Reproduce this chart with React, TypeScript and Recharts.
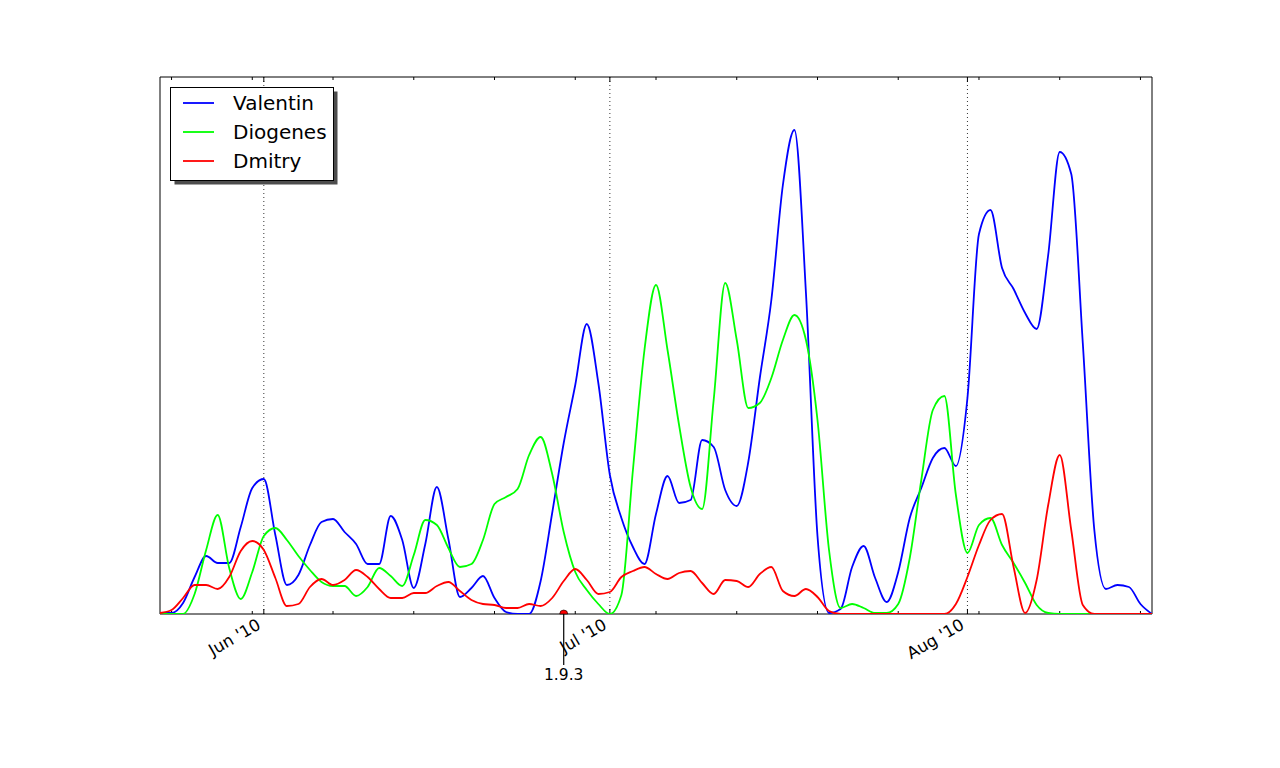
import React from 'react';
import {
  LineChart,
  Line,
  XAxis,
  YAxis,
  ReferenceLine,
  ReferenceArea,
  ReferenceDot,
  Legend,
} from 'recharts';

// Daily values, day 0 = 23 May 2010 ... day 86 = 17 Aug 2010
const valentin = [
  1, 1, 11, 37, 58, 51, 51, 87, 126, 135,
  79, 29, 39, 69, 92, 95, 82, 70, 50, 50,
  98, 74, 26, 70, 127, 75, 17, 26, 38, 16,
  2, 0, 0, 33, 101, 171, 229, 290, 231, 139,
  96, 67, 50, 100, 138, 111, 114, 174, 167, 124,
  108, 152, 236, 314, 429, 484, 321, 78, 1, 5,
  47, 68, 36, 12, 42, 96, 126, 156, 166, 148,
  216, 380, 404, 346, 325, 301, 285, 359, 462, 440,
  271, 84, 25, 29, 27, 10, 0,
];

const diogenes = [
  0, 0, 0, 20, 64, 99, 46, 15, 42, 78,
  86, 74, 58, 44, 32, 28, 28, 18, 27, 46,
  38, 28, 59, 94, 89, 66, 47, 50, 74, 110,
  117, 125, 159, 177, 140, 82, 42, 24, 10, 0,
  19, 144, 264, 329, 264, 189, 127, 105, 214, 331,
  274, 206, 211, 236, 274, 299, 274, 194, 64, 6,
  10, 6, 1, 1, 10, 56, 134, 204, 218, 119,
  61, 89, 96, 69, 51, 31, 9, 1, 0, 0,
  0, 0, 0, 0, 0, 0, 0,
];

const dmitry = [
  1, 4, 16, 29, 29, 25, 37, 63, 73, 64,
  36, 8, 10, 27, 35, 29, 34, 44, 37, 25,
  16, 16, 21, 21, 28, 32, 23, 14, 10, 9,
  6, 6, 10, 8, 16, 33, 45, 34, 20, 22,
  37, 43, 47, 40, 35, 41, 43, 31, 20, 34,
  33, 27, 40, 47, 23, 18, 25, 17, 3, 0,
  0, 0, 0, 0, 0, 0, 0, 0, 0, 10,
  37, 69, 94, 100, 47, 1, 34, 109, 159, 84,
  9, 0, 0, 0, 0, 0, 0,
];

const seriesNames = ['Valentin', 'Diogenes', 'Dmitry'];
const seriesColors = ['#0000ff', '#00ff00', '#ff0000'];
const majorTickDays = [9, 39, 70];
const majorTickLabels = ["Jun '10", "Jul '10", "Aug '10"];
const minorTickDays = [1, 8, 15, 22, 29, 36, 43, 50, 57, 64, 71, 78, 85];
const releaseDay = 35;
const releaseLabel = '1.9.3';
const dayDomain = [0, 86];
const valueDomain = [0, 537];
// tick mark lengths expressed in value units (1 unit = 1px on this axis)
const MAJOR_TICK = 5;
const MINOR_TICK = 3;

const data = valentin.map((v, i) => ({
  day: i,
  Valentin: v,
  Diogenes: diogenes[i],
  Dmitry: dmitry[i],
}));

const FONT = 'DejaVu Sans';

const makeTickLabel = (label: string) => (props: any) => {
  const vb = props.viewBox || {};
  const x = vb.x;
  const bottom = vb.y + vb.height;
  return (
    <text
      transform={`translate(${x - 2},${bottom + 14}) rotate(-30)`}
      textAnchor="end"
      fontFamily={FONT}
      fontSize={16.5}
      fill="#000"
    >
      {label}
    </text>
  );
};

const ReleaseMarker = (props: any) => {
  const { cx, cy } = props;
  return (
    <g>
      <line x1={cx} y1={cy} x2={cx} y2={cy + 51} stroke="#000" strokeWidth={1.2} />
      <path
        d={`M ${cx - 4} ${cy} A 4 4 0 0 1 ${cx + 4} ${cy} Z`}
        fill="#ff0000"
        stroke="#000"
        strokeWidth={0.6}
      />
      <text
        x={cx}
        y={cy + 66}
        textAnchor="middle"
        fontFamily={FONT}
        fontSize={15.5}
        fill="#000"
      >
        {releaseLabel}
      </text>
    </g>
  );
};

const LegendBox = () => {
  return (
    <svg width={172} height={102} style={{ display: 'block' }}>
      <rect x={4.5} y={4.5} width={163} height={93} fill="#4d4d4d" />
      <rect x={0.5} y={0.5} width={163} height={93} fill="#fff" stroke="#000" strokeWidth={1} />
      {seriesNames.map((name, i) => {
        const ly = 16 + i * 29;
        return (
          <g key={name}>
            <line x1={13} y1={ly} x2={44} y2={ly} stroke={seriesColors[i]} strokeWidth={1.8} />
            <text x={63} y={ly + 6.5} fontFamily={FONT} fontSize={20} fill="#000">
              {name}
            </text>
          </g>
        );
      })}
    </svg>
  );
};

export default function App() {
  const tickMarks: { d: number; len: number }[] = [
    ...minorTickDays.map((d) => ({ d, len: MINOR_TICK })),
    ...majorTickDays.map((d) => ({ d, len: MAJOR_TICK })),
  ];
  return (
    <div
      style={{
        position: 'absolute',
        left: 0,
        top: 0,
        width: 1280,
        height: 768,
        background: '#fff',
      }}
    >
      <LineChart
        width={1280}
        height={768}
        data={data}
        margin={{ top: 77, right: 128, bottom: 154, left: 160 }}
      >
        <XAxis
          xAxisId="x"
          dataKey="day"
          type="number"
          domain={dayDomain}
          allowDataOverflow
          hide
        />
        <YAxis yAxisId="y" type="number" domain={valueDomain} allowDataOverflow hide />

        {majorTickDays.map((d, i) => (
          <ReferenceLine
            key={`grid-${d}`}
            xAxisId="x"
            yAxisId="y"
            x={d}
            stroke="#000"
            strokeWidth={0.8}
            strokeDasharray="1 3"
            label={{ content: makeTickLabel(majorTickLabels[i]) }}
          />
        ))}

        {tickMarks.map((t) => (
          <ReferenceLine
            key={`tb-${t.d}`}
            xAxisId="x"
            yAxisId="y"
            segment={[
              { x: t.d, y: valueDomain[0] },
              { x: t.d, y: valueDomain[0] + t.len },
            ]}
            stroke="#000"
            strokeWidth={1}
          />
        ))}
        {tickMarks.map((t) => (
          <ReferenceLine
            key={`tt-${t.d}`}
            xAxisId="x"
            yAxisId="y"
            segment={[
              { x: t.d, y: valueDomain[1] },
              { x: t.d, y: valueDomain[1] - t.len },
            ]}
            stroke="#000"
            strokeWidth={1}
          />
        ))}

        {seriesNames.map((name, i) => (
          <Line
            key={name}
            xAxisId="x"
            yAxisId="y"
            type="monotone"
            dataKey={name}
            name={name}
            stroke={seriesColors[i]}
            strokeWidth={1.8}
            dot={false}
            isAnimationActive={false}
          />
        ))}

        <ReferenceArea
          xAxisId="x"
          yAxisId="y"
          x1={dayDomain[0]}
          x2={dayDomain[1]}
          y1={valueDomain[0]}
          y2={valueDomain[1]}
          fill="none"
          fillOpacity={0}
          stroke="#000"
          strokeWidth={1}
          ifOverflow="visible"
        />

        <ReferenceDot
          xAxisId="x"
          yAxisId="y"
          x={releaseDay}
          y={0}
          r={4}
          ifOverflow="visible"
          shape={ReleaseMarker}
        />

        <Legend
          layout="vertical"
          align="center"
          verticalAlign="middle"
          content={LegendBox}
          wrapperStyle={{ left: 170, top: 87, width: 172, height: 102 }}
        />
      </LineChart>
    </div>
  );
}
